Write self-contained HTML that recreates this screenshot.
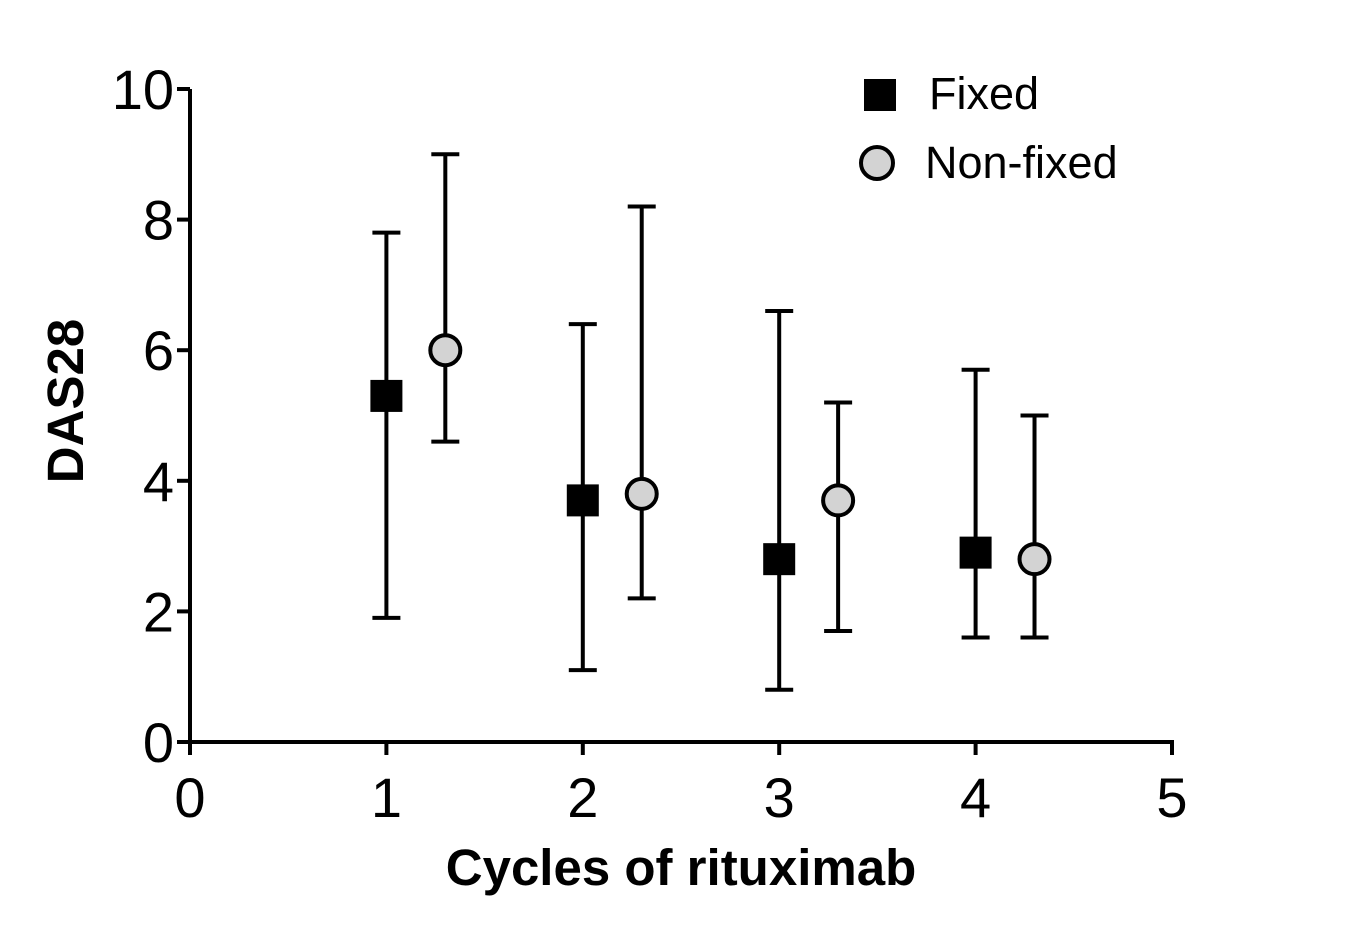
<!DOCTYPE html>
<html><head><meta charset="utf-8"><style>
html,body{margin:0;padding:0;background:#fff;}
svg{display:block;font-family:"Liberation Sans",Arial,sans-serif;}
</style></head><body>
<svg id="chart" width="1352" height="929" viewBox="0 0 1352 929">
<g id="axes"></g>
<g id="marks"></g>
<text transform="translate(83,401) rotate(-90)" text-anchor="middle" font-size="51" font-weight="bold">DAS28</text>
<text x="681" y="885" text-anchor="middle" font-size="51" font-weight="bold">Cycles of rituximab</text>
<g>
<rect x="864" y="79" width="32" height="32" fill="#000"/>
<text x="929" y="109" font-size="45">Fixed</text>
<circle cx="877" cy="163" r="16" fill="#d3d3d3" stroke="#000" stroke-width="4"/>
<text x="925" y="178" font-size="45">Non-fixed</text>
</g>
</svg>
<script>
const cycles=[1,2,3,4];
const fixedMean=[5.3,3.7,2.8,2.9];
const fixedLow=[1.9,1.1,0.8,1.6];
const fixedHigh=[7.8,6.4,6.6,5.7];
const nonFixedMean=[6.0,3.8,3.7,2.8];
const nonFixedLow=[4.6,2.2,1.7,1.6];
const nonFixedHigh=[9.0,8.2,5.2,5.0];
const xTicks=[0,1,2,3,4,5];
const yTicks=[0,2,4,6,8,10];
const NS="http://www.w3.org/2000/svg";
const X=v=>190+v*196.4;
const Y=v=>742-v*65.3;
function mk(tag,attrs,parent){const e=document.createElementNS(NS,tag);for(const k in attrs)e.setAttribute(k,attrs[k]);parent.appendChild(e);return e;}
const axes=document.getElementById('axes');
const marks=document.getElementById('marks');
let a=mk('line',{x1:X(0),y1:Y(0),x2:X(0),y2:Y(10),stroke:'#000','stroke-width':4},axes);

a=mk('line',{x1:X(0)-2,y1:Y(0),x2:X(5)+2,y2:Y(0),stroke:'#000','stroke-width':4},axes);

yTicks.forEach(t=>{
 let l=mk('line',{x1:X(0)-13,y1:Y(t),x2:X(0),y2:Y(t),stroke:'#000','stroke-width':4},axes);
 
 let tx=mk('text',{x:174,y:Y(t)+20,'text-anchor':'end','font-size':56},axes);tx.textContent=t;
 
});
xTicks.forEach(t=>{
 let l=mk('line',{x1:X(t),y1:Y(0),x2:X(t),y2:Y(0)+13,stroke:'#000','stroke-width':4},axes);
 
 let tx=mk('text',{x:X(t),y:817,'text-anchor':'middle','font-size':56},axes);tx.textContent=t;
 
});
function errbar(x,lo,hi,name){
 const g=mk('g',{},marks);
 
 mk('line',{x1:x,y1:Y(lo),x2:x,y2:Y(hi),stroke:'#000','stroke-width':4},g);
 mk('line',{x1:x-14,y1:Y(lo),x2:x+14,y2:Y(lo),stroke:'#000','stroke-width':4},g);
 mk('line',{x1:x-14,y1:Y(hi),x2:x+14,y2:Y(hi),stroke:'#000','stroke-width':4},g);
}
cycles.forEach((c,i)=>{
 const xf=X(c), xn=X(c+0.3);
 errbar(xf,fixedLow[i],fixedHigh[i],'fixed-error-bar');
 errbar(xn,nonFixedLow[i],nonFixedHigh[i],'nonfixed-error-bar');
 let r=mk('rect',{x:xf-16,y:Y(fixedMean[i])-16,width:32,height:32,fill:'#000'},marks);
 
 let ci=mk('circle',{cx:xn,cy:Y(nonFixedMean[i]),r:15,fill:'#d3d3d3',stroke:'#000','stroke-width':4},marks);
 
});
</script>
</body></html>
